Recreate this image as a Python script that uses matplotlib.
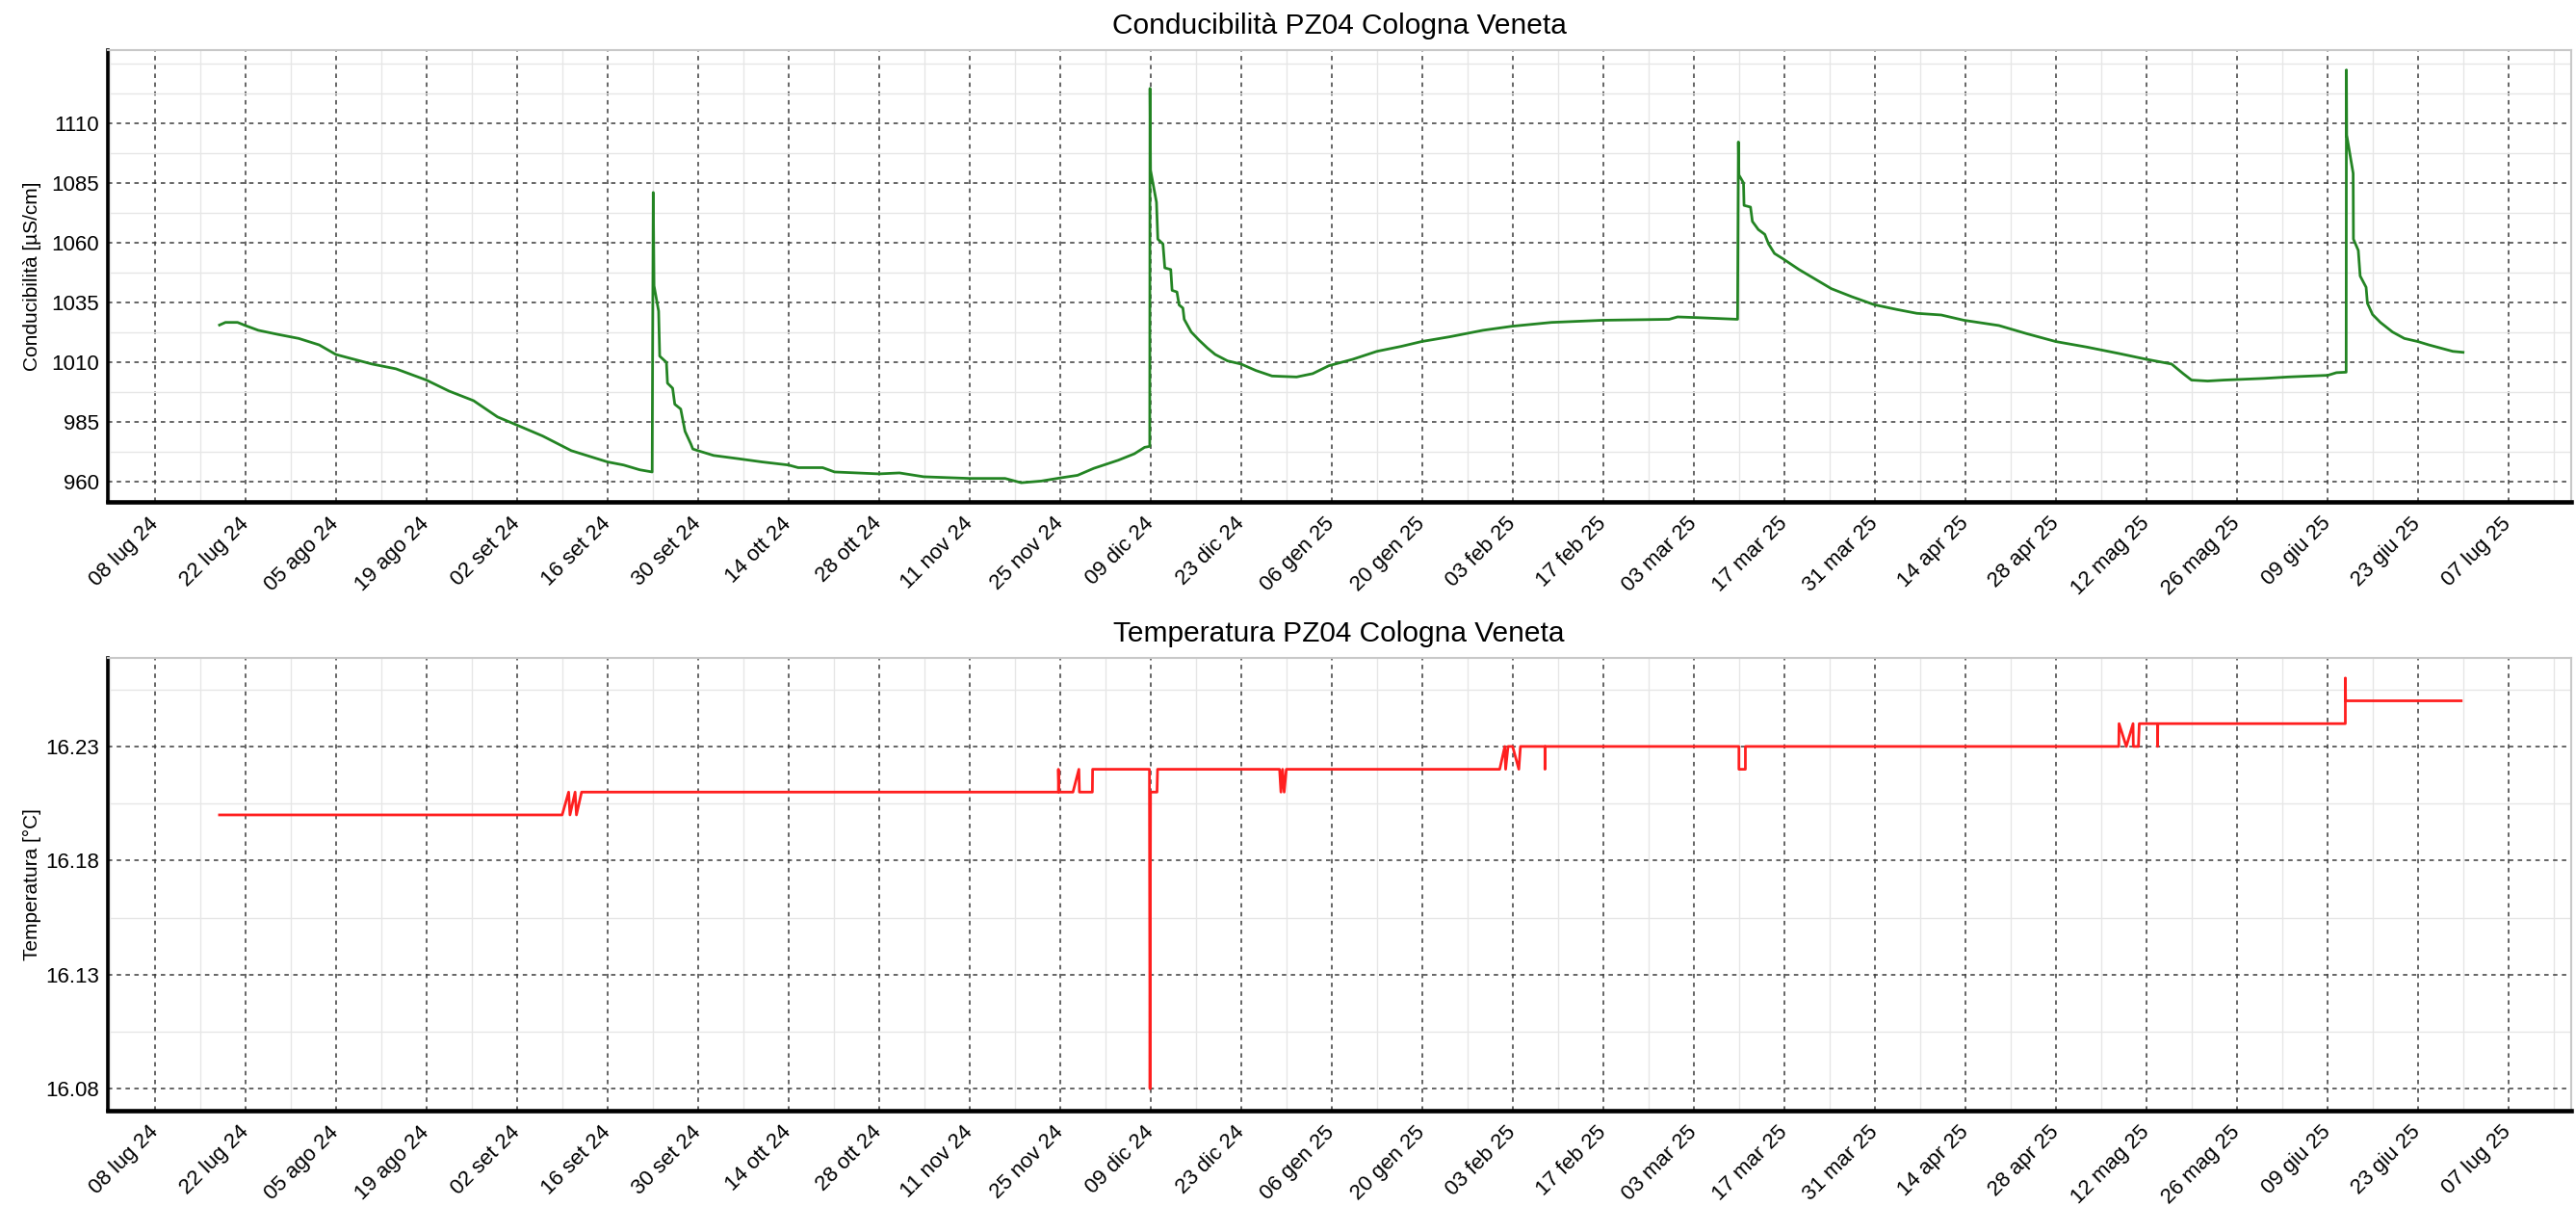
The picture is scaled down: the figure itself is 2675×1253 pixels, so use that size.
import matplotlib
matplotlib.use('Agg')
import matplotlib.pyplot as plt
import matplotlib.dates as mdates
from matplotlib.ticker import FixedLocator, AutoMinorLocator, FuncFormatter
import pandas as pd

plt.rcParams['font.family'] = ['Liberation Sans', 'DejaVu Sans']

# Conducibilità [µS/cm]
cond_dates = [
    '2024-07-18 00:00', '2024-07-18 22:00', '2024-07-20 19:00', '2024-07-22 00:00', '2024-07-24 00:00',
    '2024-07-27 00:00', '2024-07-30 06:00', '2024-08-02 10:00', '2024-08-05 00:00', '2024-08-06 19:00',
    '2024-08-10 14:00', '2024-08-14 07:00', '2024-08-19 00:00', '2024-08-22 12:00', '2024-08-26 07:00',
    '2024-08-30 00:00', '2024-09-02 00:00', '2024-09-06 00:00', '2024-09-10 10:00', '2024-09-16 00:00',
    '2024-09-18 12:00', '2024-09-21 00:00', '2024-09-22 22:00', '2024-09-23 02:00', '2024-09-23 05:00',
    '2024-09-23 22:00', '2024-09-24 02:00', '2024-09-25 03:00', '2024-09-25 07:00', '2024-09-26 02:00',
    '2024-09-26 10:00', '2024-09-27 08:00', '2024-09-28 00:00', '2024-09-28 22:00', '2024-09-29 05:00',
    '2024-09-30 00:00', '2024-10-02 10:00', '2024-10-06 02:00', '2024-10-09 21:00', '2024-10-14 00:00',
    '2024-10-15 12:00', '2024-10-19 07:00', '2024-10-21 03:00', '2024-10-28 00:00', '2024-10-31 04:00',
    '2024-11-03 22:00', '2024-11-11 00:00', '2024-11-16 12:00', '2024-11-19 00:00', '2024-11-22 02:00',
    '2024-11-25 00:00', '2024-11-27 17:00', '2024-11-30 05:00', '2024-12-04 00:00', '2024-12-06 12:00',
    '2024-12-08 02:00', '2024-12-08 21:00', '2024-12-08 22:00', '2024-12-09 00:00', '2024-12-09 22:00',
    '2024-12-10 03:00', '2024-12-10 22:00', '2024-12-11 05:00', '2024-12-12 03:00', '2024-12-12 08:00',
    '2024-12-13 02:00', '2024-12-13 10:00', '2024-12-14 00:00', '2024-12-14 05:00', '2024-12-15 07:00',
    '2024-12-16 12:00', '2024-12-17 19:00', '2024-12-19 00:00', '2024-12-20 22:00', '2024-12-23 00:00',
    '2024-12-25 07:00', '2024-12-27 19:00', '2024-12-31 14:00', '2025-01-03 02:00', '2025-01-05 14:00',
    '2025-01-09 07:00', '2025-01-13 00:00', '2025-01-16 19:00', '2025-01-19 22:00', '2025-01-24 07:00',
    '2025-01-29 10:00', '2025-02-02 22:00', '2025-02-09 00:00', '2025-02-16 22:00', '2025-02-27 05:00',
    '2025-02-28 12:00', '2025-03-03 14:00', '2025-03-09 19:00', '2025-03-09 22:00', '2025-03-10 00:00',
    '2025-03-10 17:00', '2025-03-10 19:00', '2025-03-11 19:00', '2025-03-12 02:00', '2025-03-13 00:00',
    '2025-03-14 00:00', '2025-03-14 14:00', '2025-03-15 12:00', '2025-03-16 22:00', '2025-03-19 07:00',
    '2025-03-21 19:00', '2025-03-24 07:00', '2025-03-27 12:00', '2025-03-30 22:00', '2025-04-03 10:00',
    '2025-04-06 12:00', '2025-04-10 07:00', '2025-04-13 19:00', '2025-04-19 05:00', '2025-04-23 12:00',
    '2025-04-28 00:00', '2025-05-02 19:00', '2025-05-07 19:00', '2025-05-12 00:00', '2025-05-15 22:00',
    '2025-05-17 17:00', '2025-05-19 00:00', '2025-05-21 12:00', '2025-05-24 00:00', '2025-05-30 05:00',
    '2025-06-02 22:00', '2025-06-09 02:00', '2025-06-10 10:00', '2025-06-11 22:00', '2025-06-11 23:00',
    '2025-06-12 00:00', '2025-06-13 00:00', '2025-06-13 01:00', '2025-06-13 19:00', '2025-06-14 02:00',
    '2025-06-15 00:00', '2025-06-15 05:00', '2025-06-16 00:00', '2025-06-17 05:00', '2025-06-19 02:00',
    '2025-06-20 22:00', '2025-06-23 00:00', '2025-06-24 17:00', '2025-06-26 12:00', '2025-06-28 10:00',
    '2025-06-30 00:00',
]
cond_values = [
    1025.6, 1026.7, 1026.7, 1025.4, 1023.4,
    1021.7, 1020.0, 1017.3, 1013.3, 1012.0,
    1009.3, 1007.3, 1002.6, 998.0, 994.0,
    987.2, 983.8, 979.2, 973.1, 968.4,
    967.1, 965.1, 964.2, 1081.0, 1042.0,
    1031.4, 1012.6, 1010.0, 1001.3, 999.2,
    992.5, 990.5, 981.2, 975.8, 973.8,
    973.1, 971.1, 969.8, 968.4, 967.1,
    966.0, 966.0, 964.2, 963.4, 963.8,
    962.2, 961.5, 961.5, 959.7, 960.4,
    961.7, 962.8, 965.7, 969.1, 971.8,
    974.5, 974.9, 1124.5, 1090.3, 1076.9,
    1061.5, 1059.5, 1049.5, 1048.8, 1040.1,
    1039.4, 1034.0, 1032.7, 1028.0, 1022.7,
    1019.3, 1016.0, 1013.3, 1010.6, 1009.3,
    1006.6, 1004.3, 1003.9, 1005.3, 1008.6,
    1011.3, 1014.6, 1016.7, 1018.7, 1020.7,
    1023.4, 1025.1, 1026.7, 1027.6, 1028.0,
    1029.0, 1028.7, 1028.0, 1102.1, 1088.3,
    1085.0, 1075.6, 1074.9, 1068.9, 1065.5,
    1063.5, 1059.5, 1055.5, 1053.1, 1048.8,
    1044.8, 1040.8, 1037.4, 1034.1, 1032.1,
    1030.5, 1029.8, 1027.6, 1025.4, 1022.0,
    1018.7, 1016.4, 1013.7, 1011.3, 1009.3,
    1005.3, 1002.6, 1002.2, 1002.6, 1003.3,
    1003.9, 1004.6, 1005.7, 1005.9, 1132.2,
    1105.0, 1089.0, 1061.5, 1056.8, 1046.1,
    1041.4, 1034.7, 1030.0, 1026.7, 1022.7,
    1020.0, 1018.7, 1017.3, 1016.0, 1014.6,
    1014.2,
]

# Temperatura [°C]
temp_dates = [
    '2024-07-18 00:00', '2024-09-09 00:00', '2024-09-10 00:00', '2024-09-10 05:00', '2024-09-11 00:00',
    '2024-09-11 05:00', '2024-09-12 00:00', '2024-11-24 18:00', '2024-11-24 18:00', '2024-11-24 20:00',
    '2024-11-27 00:00', '2024-11-27 22:00', '2024-11-28 00:00', '2024-11-30 00:00', '2024-11-30 01:00',
    '2024-12-08 20:00', '2024-12-08 20:00', '2024-12-08 22:00', '2024-12-09 00:00', '2024-12-10 00:00',
    '2024-12-10 02:00', '2024-12-28 23:00', '2024-12-29 04:00', '2024-12-29 10:00', '2024-12-29 16:00',
    '2024-12-30 00:00', '2025-02-01 00:00', '2025-02-01 19:00', '2025-02-01 22:00', '2025-02-02 07:00',
    '2025-02-03 00:00', '2025-02-03 23:00', '2025-02-04 05:00', '2025-02-08 00:00', '2025-02-08 00:00',
    '2025-02-08 01:00', '2025-03-10 00:00', '2025-03-10 00:00', '2025-03-11 00:00', '2025-03-11 00:00',
    '2025-05-07 18:00', '2025-05-07 19:00', '2025-05-08 22:00', '2025-05-09 23:00', '2025-05-10 00:00',
    '2025-05-10 19:00', '2025-05-10 22:00', '2025-05-13 18:00', '2025-05-13 18:00', '2025-05-13 19:00',
    '2025-06-11 19:00', '2025-06-11 19:00', '2025-06-11 20:00', '2025-06-29 17:00',
]
temp_values = [
    16.20, 16.20, 16.21, 16.20, 16.21,
    16.20, 16.21, 16.21, 16.22, 16.21,
    16.21, 16.22, 16.21, 16.21, 16.22,
    16.22, 16.21, 16.08, 16.21, 16.21,
    16.22, 16.22, 16.21, 16.22, 16.21,
    16.22, 16.22, 16.23, 16.22, 16.23,
    16.23, 16.22, 16.23, 16.23, 16.22,
    16.23, 16.23, 16.22, 16.22, 16.23,
    16.23, 16.24, 16.23, 16.24, 16.23,
    16.23, 16.24, 16.24, 16.23, 16.24,
    16.24, 16.26, 16.25, 16.25,
]

cond_ticks = [960, 985, 1010, 1035, 1060, 1085, 1110]
temp_ticks = [16.08, 16.13, 16.18, 16.23]
mesi = ['gen', 'feb', 'mar', 'apr', 'mag', 'giu', 'lug', 'ago', 'set', 'ott', 'nov', 'dic']
tick_dates = pd.date_range('2024-07-08', '2025-07-07', freq='14D')
minor_dates = pd.date_range('2024-07-01', '2025-07-14', freq='7D')


def etichetta_data(x, pos):
    d = mdates.num2date(x)
    return f"{d.day:02d} {mesi[d.month - 1]} {d.year % 100:02d}"


fig = plt.figure(figsize=(26.75, 12.53), dpi=100)
ax1 = fig.add_axes([0.0417, 0.5842, 0.9564, 0.3743])
ax2 = fig.add_axes([0.0417, 0.0800, 0.9564, 0.3753])

ax1.plot(pd.to_datetime(cond_dates), cond_values, color='#238423', linewidth=2.0)
ax2.plot(pd.to_datetime(temp_dates), temp_values, color='#ff1f1f', linewidth=2.0)

ax1.set_ylim(951.7, 1140.5)
ax2.set_ylim(16.0705, 16.269)
ax1.yaxis.set_major_locator(FixedLocator(cond_ticks))
ax2.yaxis.set_major_locator(FixedLocator(temp_ticks))
ax1.yaxis.set_major_formatter(FuncFormatter(lambda v, p: f"{v:.0f}"))
ax2.yaxis.set_major_formatter(FuncFormatter(lambda v, p: f"{v:.2f}"))

ax1.set_title("Conducibilità PZ04 Cologna Veneta", fontsize=21.5, pad=12)
ax2.set_title("Temperatura PZ04 Cologna Veneta", fontsize=21.5, pad=12)
ax1.set_ylabel("Conducibilità [µS/cm]", fontsize=15)
ax2.set_ylabel("Temperatura [°C]", fontsize=15)

for ax in (ax1, ax2):
    ax.yaxis.set_label_coords(-0.0268, 0.5)
    ax.set_xlim(pd.Timestamp('2024-06-30 16:00'), pd.Timestamp('2025-07-16 17:00'))
    ax.xaxis.set_major_locator(FixedLocator(mdates.date2num(tick_dates)))
    ax.xaxis.set_minor_locator(FixedLocator(mdates.date2num(minor_dates)))
    ax.xaxis.set_major_formatter(FuncFormatter(etichetta_data))
    ax.yaxis.set_minor_locator(AutoMinorLocator(2))
    ax.set_axisbelow(True)
    ax.grid(which='minor', color='#e6e6e6', linestyle='-', linewidth=1.0)
    ax.grid(which='major', color='#3c3c3c', linestyle=(0, (3, 3)), linewidth=1.1)
    ax.tick_params(which='both', length=0)
    ax.tick_params(axis='y', labelsize=16, pad=6)
    ax.tick_params(axis='x', labelsize=16, pad=14)
    for lab in ax.get_xticklabels():
        lab.set_rotation(45)
        lab.set_ha('right')
        lab.set_va('center')
        lab.set_rotation_mode('anchor')
    ax.spines['left'].set_linewidth(2.6)
    ax.spines['left'].set_color('black')
    ax.spines['bottom'].set_linewidth(3.3)
    ax.spines['bottom'].set_color('black')
    ax.spines['top'].set_color('#c8c8c8')
    ax.spines['top'].set_linewidth(1.5)
    ax.spines['right'].set_color('#c8c8c8')
    ax.spines['right'].set_linewidth(1.5)

fig.savefig('out.png', dpi=100, facecolor='white')
